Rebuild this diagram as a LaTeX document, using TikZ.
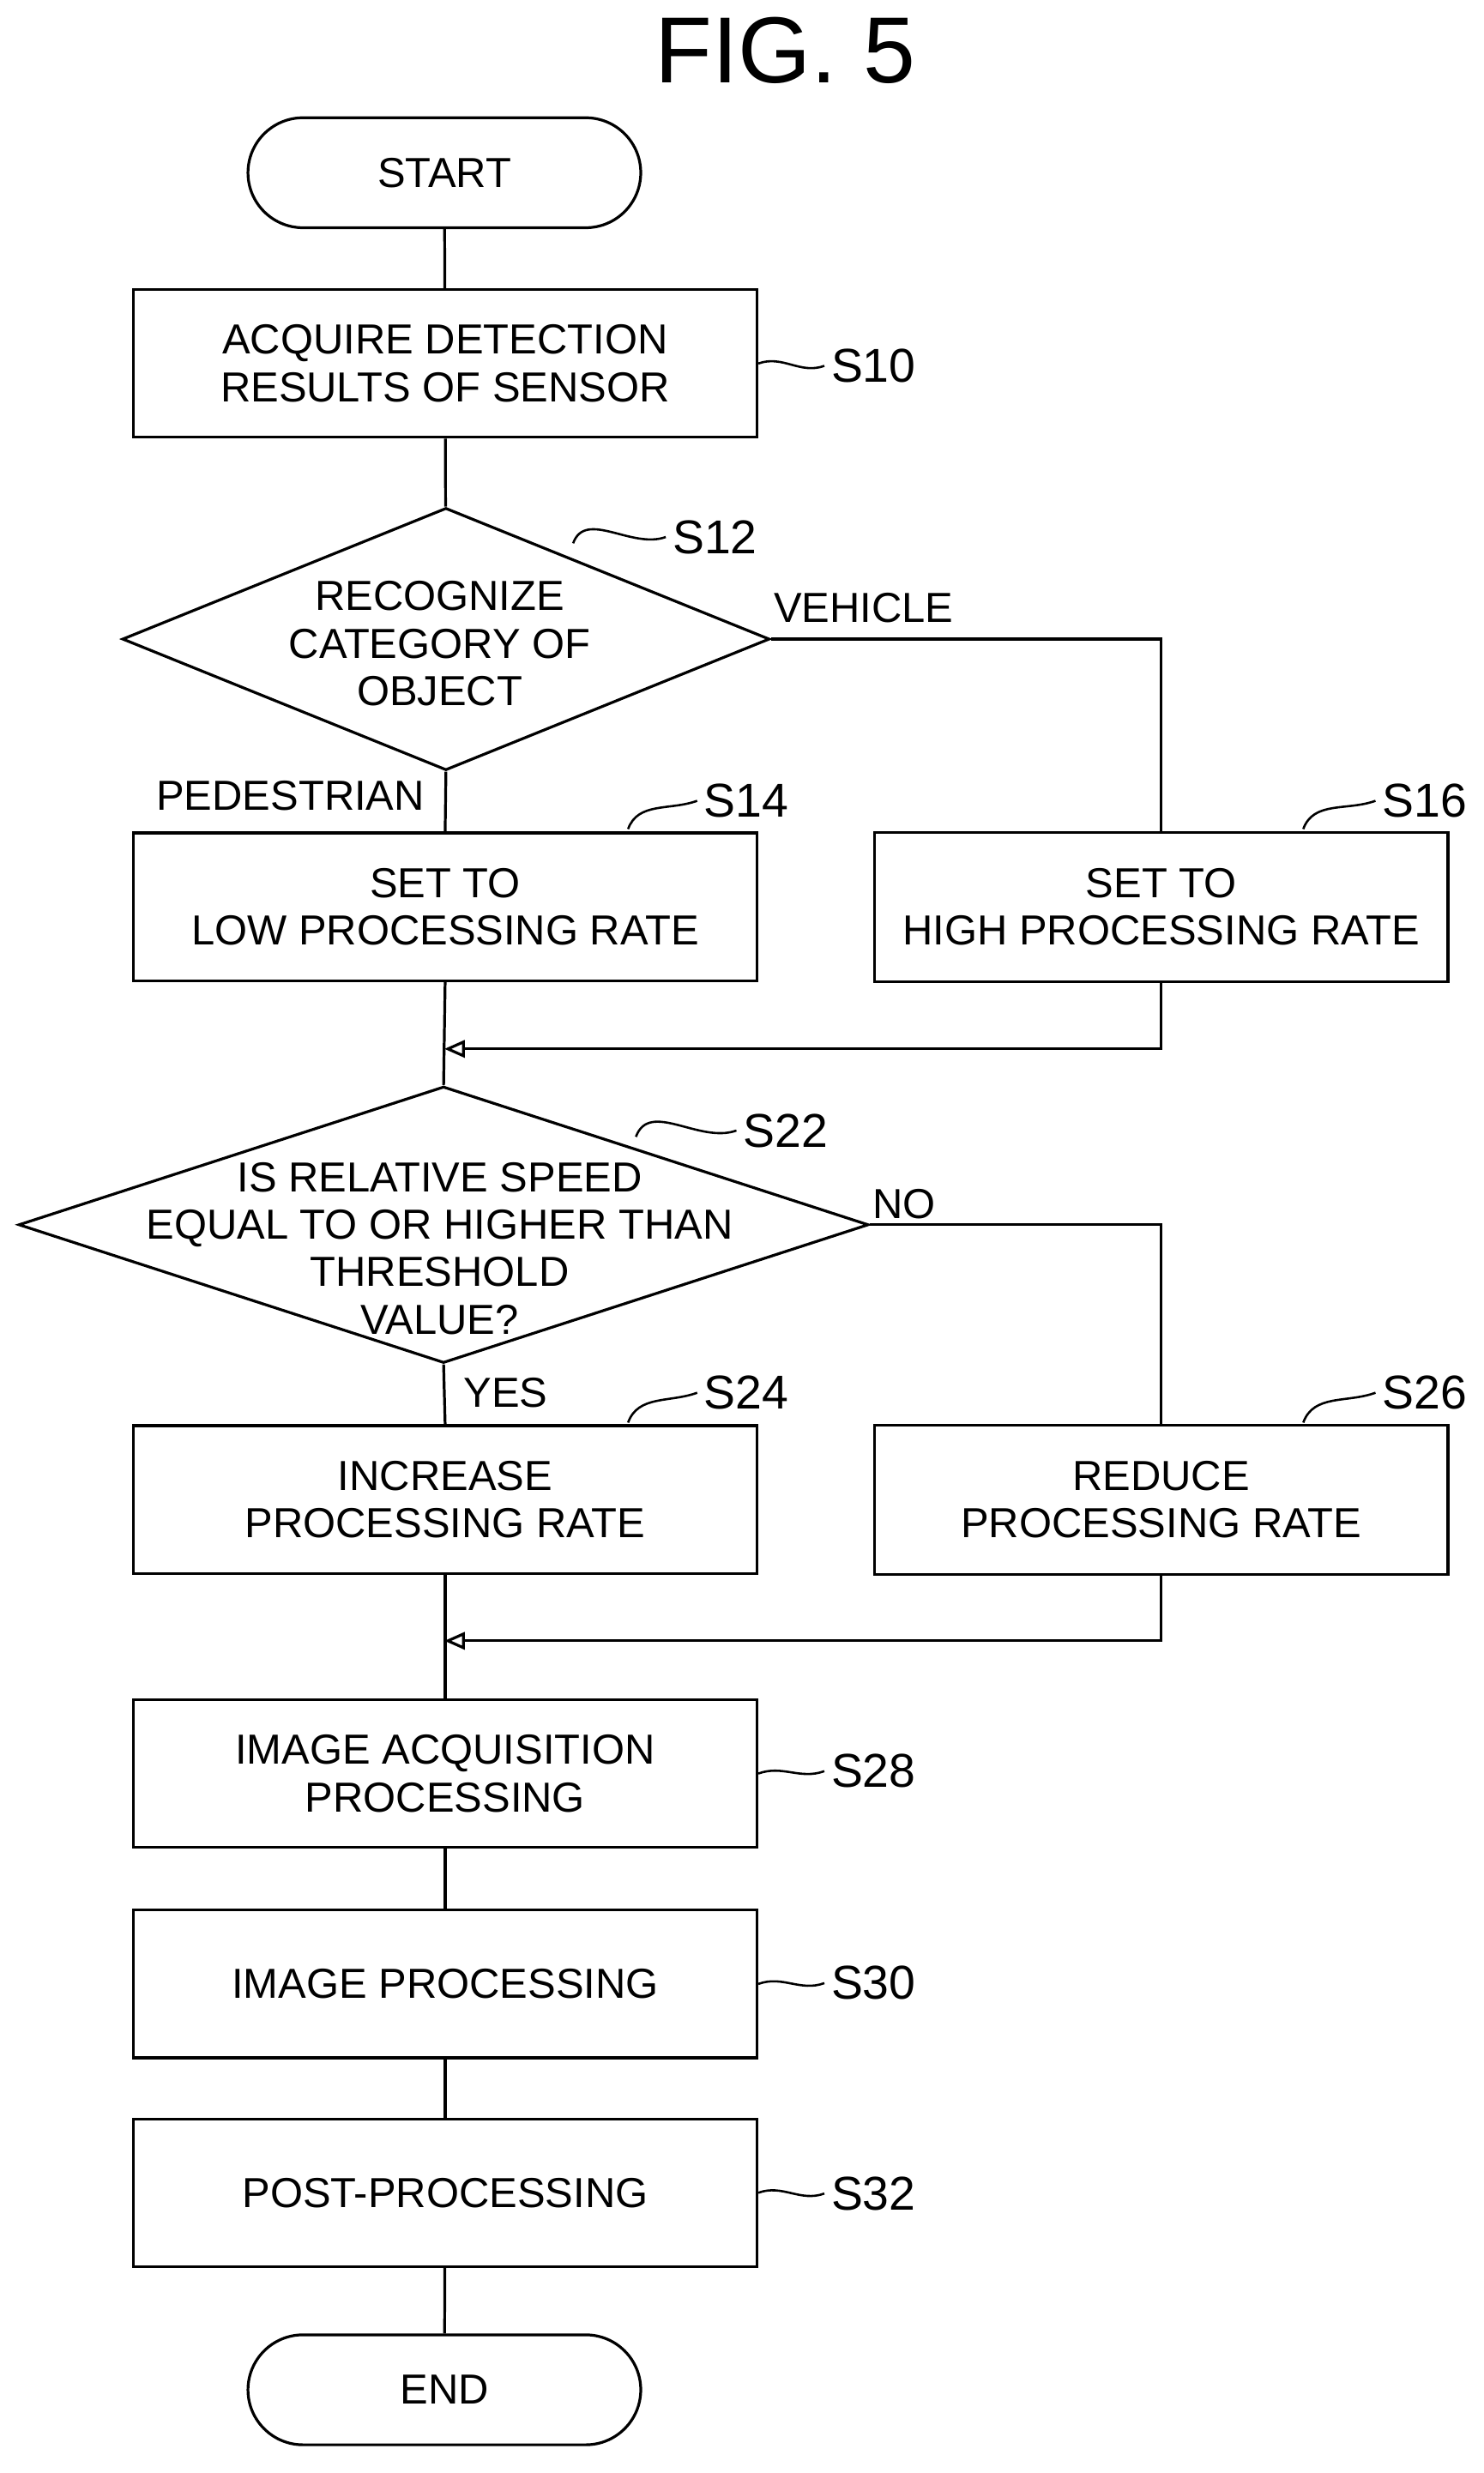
\documentclass[tikz,border=0pt]{standalone}
\usepackage{fontspec}
\setmainfont{Liberation Sans}
\usetikzlibrary{shapes.geometric,arrows.meta}
\begin{document}
\begin{tikzpicture}[x=0.01cm,y=-0.01cm,line width=0.5pt,
  txt/.style={font=\fontsize{7.6}{8.6}\selectfont,align=center},
  box/.style={draw,txt,minimum width=3.97cm,minimum height=0.94cm,inner sep=0pt},
  sbox/.style={draw,txt,minimum width=3.65cm,minimum height=0.95cm,inner sep=0pt},
  term/.style={draw,txt,rounded corners=0.35cm,minimum width=2.5cm,minimum height=0.7cm,inner sep=0pt},
  lbl/.style={font=\fontsize{8.6}{9.6}\selectfont,inner sep=1pt},
  bl/.style={txt},
  arr/.style={-{Triangle[open,length=1.3mm,width=1.1mm]}},
  wav/.style={line width=0.4pt}]
\useasboundingbox (0,0) rectangle (945,1575);
\node[font=\fontsize{17}{20}\selectfont] (title) at (500,32) {FIG. 5};
\node[term] (start) at (283,110) {START};
\node[box] (s10) at (283.5,231.5) {ACQUIRE DETECTION\\RESULTS OF SENSOR};
\node[diamond,draw,txt,minimum width=4.12cm,minimum height=1.67cm,inner sep=0pt] (s12) at (284,407) {};
\node[txt] (s12t) at (280,410) {RECOGNIZE\\CATEGORY OF\\OBJECT};
\node[box] (s14) at (283.5,577.5) {SET TO\\LOW PROCESSING RATE};
\node[sbox] (s16) at (739.5,577.5) {SET TO\\HIGH PROCESSING RATE};
\coordinate (m1) at (283,668);
\node[diamond,draw,txt,minimum width=5.41cm,minimum height=1.76cm,inner sep=0pt] (s22) at (282.5,780) {};
\node[txt] (s22t) at (280,795) {IS RELATIVE SPEED\\EQUAL TO OR HIGHER THAN\\THRESHOLD\\VALUE?};
\node[box] (s24) at (283.5,955) {INCREASE\\PROCESSING RATE};
\node[sbox] (s26) at (739.5,955) {REDUCE\\PROCESSING RATE};
\coordinate (m2) at (283,1045);
\node[box] (s28) at (283.5,1129.5) {IMAGE ACQUISITION\\PROCESSING};
\node[box] (s30) at (283.5,1263.5) {IMAGE PROCESSING};
\node[box] (s32) at (283.5,1396.5) {POST-PROCESSING};
\node[term] (end) at (283,1522) {END};
% branch labels
\node[bl] (veh) at (550,387) {VEHICLE};
\node[bl] (ped) at (185,507) {PEDESTRIAN};
\node[bl] (no) at (576,767) {NO};
\node[bl] (yes) at (322,887) {YES};
% connectors
\draw (start) -- (s10);
\draw (s10) -- (s12);
\draw (s12.south) -- (s14.north);
\draw (s12.east) -| (s16.north);
\draw (s14.south) -- (s22.north);
\draw[arr] (s16.south) |- (m1);
\draw (s22.south) -- (s24.north);
\draw (s22.east) -| (s26.north);
\draw (s24.south) -- (s28.north);
\draw[arr] (s26.south) |- (m2);
\draw (s28) -- (s30);
\draw (s30) -- (s32);
\draw (s32) -- (end);
% step labels
\node[lbl,anchor=west] (l10) at (525,233) {S10};
\node[lbl,anchor=west] (l12) at (424,342) {S12};
\node[lbl,anchor=west] (l14) at (444,510) {S14};
\node[lbl,anchor=west] (l16) at (876,510) {S16};
\node[lbl,anchor=west] (l22) at (469,720) {S22};
\node[lbl,anchor=west] (l24) at (444,887) {S24};
\node[lbl,anchor=west] (l26) at (876,887) {S26};
\node[lbl,anchor=west] (l28) at (525,1128) {S28};
\node[lbl,anchor=west] (l30) at (525,1263) {S30};
\node[lbl,anchor=west] (l32) at (525,1397) {S32};
\draw[wav] (s10.east) to[out=20,in=200] (l10.west);
\draw[wav] (s28.east) to[out=20,in=200] (l28.west);
\draw[wav] (s30.east) to[out=20,in=200] (l30.west);
\draw[wav] (s32.east) to[out=20,in=200] (l32.west);
\coordinate (c12) at (365,346);
\coordinate (c14) at (400,528);
\coordinate (c16) at (830,528);
\coordinate (c22) at (405,724);
\coordinate (c24) at (400,906);
\coordinate (c26) at (830,906);
\draw[wav] (c12) to[out=70,in=200] (l12.west);
\draw[wav] (c14) to[out=70,in=200] (l14.west);
\draw[wav] (c16) to[out=70,in=200] (l16.west);
\draw[wav] (c22) to[out=70,in=200] (l22.west);
\draw[wav] (c24) to[out=70,in=200] (l24.west);
\draw[wav] (c26) to[out=70,in=200] (l26.west);
\end{tikzpicture}
\end{document}
